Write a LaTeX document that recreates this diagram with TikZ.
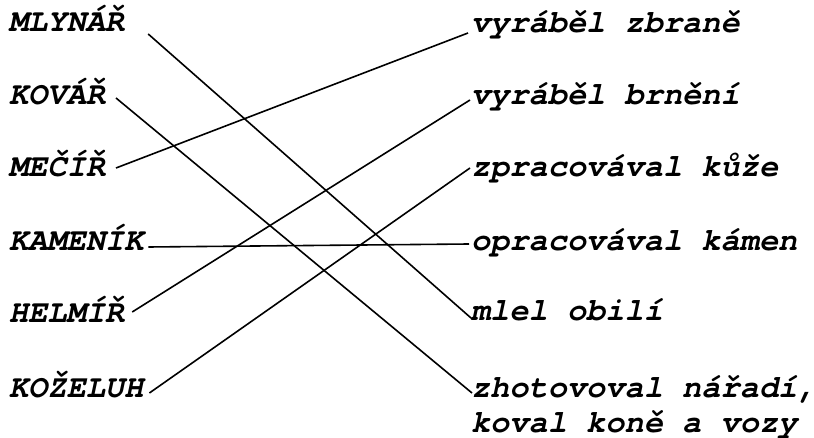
\documentclass[tikz,border=0pt]{standalone}
\usepackage{fontspec}
\newfontfamily\courbi{texgyrecursor}[Extension=.otf,UprightFont=*-regular,
  BoldFont=*-bold,ItalicFont=*-italic,BoldItalicFont=*-bolditalic]
\usetikzlibrary{positioning}

\begin{document}
\begin{tikzpicture}[x=1pt,y=-1pt,
        every node/.style={word},
        word/.style={font=\courbi\bfseries\itshape\fontsize{32}{35}\selectfont,
                     inner sep=0pt,outer sep=0pt,anchor=base west},
        pair/.style={line width=1.6pt}]
   \useasboundingbox (0,0) rectangle (814,438);
   % left column
   \node (mlynar)  at (9,32)  {MLYNÁŘ};
   \node (kovar)   at (9,105) {KOVÁŘ};
   \node (mecir)   at (9,177) {MEČÍŘ};
   \node (kamenik) at (9,251) {KAMENÍK};
   \node (helmir)  at (9,323) {HELMÍŘ};
   \node (kozeluh) at (9,397) {KOŽELUH};
   % right column
   \node (zbrane)  at (471,33)  {vyráběl zbraně};
   \node (brneni)  at (471,105) {vyráběl brnění};
   \node (kuze)    at (471,177) {zpracovával kůže};
   \node (kamen)   at (471,251) {opracovával kámen};
   \node (obili)   at (471,321) {mlel obilí};
   \node (naradi)  at (471,432) [align=left] {zhotovoval nářadí,\\koval koně a vozy};

   \draw[pair] ([xshift=24,yshift=-2]mlynar.base east) -- ([yshift=3]obili.base west);
   \draw[pair] ([xshift=11,yshift=7]kovar.base east) -- ([xshift=1,yshift=39]naradi.base west);
   \draw[pair] ([xshift=11,yshift=9]mecir.base east) -- ([xshift=-3]zbrane.base west);
   \draw[pair] ([xshift=5,yshift=4]kamenik.base east) -- ([xshift=-2,yshift=7]kamen.base west);
   \draw[pair] ([xshift=8,yshift=11]helmir.base east) -- ([xshift=-1,yshift=5]brneni.base west);
   \draw[pair] ([xshift=6,yshift=4]kozeluh.base east) -- ([xshift=-1,yshift=9]kuze.base west);
\end{tikzpicture}
\end{document}
